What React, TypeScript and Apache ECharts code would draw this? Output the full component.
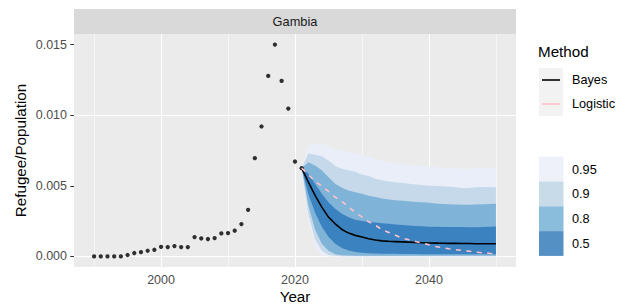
import React, { useEffect, useRef } from "react";
import * as echarts from "echarts";

const obsYears = [1990,1991,1992,1993,1994,1995,1996,1997,1998,1999,2000,2001,2002,2003,2004,2005,2006,2007,2008,2009,2010,2011,2012,2013,2014,2015,2016,2017,2018,2019,2020,2021];
const obsValues = [0,0,0,0,0,0.0001,0.00024,0.0003,0.0004,0.00047,0.00068,0.00066,0.00073,0.00066,0.00066,0.00137,0.00127,0.00123,0.0013,0.00163,0.00165,0.00182,0.00229,0.0033,0.00696,0.0092,0.01278,0.015,0.01243,0.01047,0.00672,0.00625];

const fcYears = [2021,2022,2023,2024,2025,2026,2027,2028,2029,2030,2031,2032,2033,2034,2035,2036,2037,2038,2039,2040,2041,2042,2043,2044,2045,2046,2047,2048,2049,2050];
const bayesMedian = [0.00625,0.00526,0.00432,0.00349,0.00278,0.00231,0.00191,0.00165,0.00149,0.00137,0.00125,0.00116,0.0011,0.00107,0.00105,0.00103,0.00101,0.00099,0.00097,0.00095,0.00094,0.00093,0.00092,0.00092,0.00091,0.00091,0.0009,0.0009,0.0009,0.0009];
const logistic = [0.00625,0.0058,0.0053,0.005,0.0046,0.0042,0.0039,0.0035,0.0031,0.0028,0.00245,0.0022,0.0019,0.0017,0.0015,0.0013,0.00118,0.00106,0.00095,0.00082,0.0007,0.00062,0.00054,0.00047,0.00042,0.00037,0.0003,0.00026,0.00022,0.0002];

const upper95 = [0.00625,0.0079,0.008,0.008,0.0078,0.0076,0.0075,0.0074,0.0073,0.00718,0.0071,0.0069,0.00675,0.0067,0.0066,0.00655,0.0065,0.00645,0.0064,0.00635,0.00632,0.0063,0.00628,0.00625,0.0062,0.0062,0.00625,0.0063,0.00625,0.0062];
const upper90 = [0.00625,0.0073,0.0072,0.0071,0.0068,0.0064,0.0062,0.0061,0.006,0.0058,0.0057,0.0055,0.0054,0.0053,0.00525,0.0052,0.00515,0.0051,0.00505,0.005,0.005,0.00497,0.00493,0.0049,0.00485,0.00485,0.0049,0.00492,0.0049,0.0049];
const upper80 = [0.00625,0.00667,0.00644,0.0061,0.0056,0.00514,0.00486,0.00467,0.00455,0.00443,0.0043,0.0042,0.0041,0.00403,0.00398,0.00394,0.0039,0.00386,0.00383,0.0038,0.00375,0.00372,0.0037,0.00368,0.00366,0.00366,0.00368,0.0037,0.00372,0.00373];
const upper50 = [0.00625,0.00585,0.00514,0.00443,0.00384,0.00337,0.00302,0.00278,0.0026,0.0025,0.00245,0.0024,0.00235,0.00231,0.00226,0.00222,0.00219,0.00216,0.00213,0.0021,0.0021,0.00209,0.00209,0.00209,0.00208,0.00206,0.00206,0.00208,0.0021,0.00212];
const lower50 = [0.00625,0.0044,0.0031,0.0021,0.0014,0.0009,0.0006,0.00042,0.00032,0.00026,0.00022,0.0002,0.00019,0.00018,0.00018,0.00017,0.00017,0.00017,0.00016,0.00016,0.00016,0.00016,0.00015,0.00015,0.00015,0.00015,0.00015,0.00015,0.00015,0.00015];
const lower80 = [0.00625,0.0036,0.0019,0.0009,0.0004,0.00015,0.00008,0.00006,0.00005,0.00005,0.00005,0.00005,0.00004,0.00004,0.00004,0.00004,0.00004,0.00004,0.00004,0.00004,0.00004,0.00004,0.00004,0.00004,0.00004,0.00004,0.00004,0.00004,0.00004,0.00004];
const lower90 = [0.00625,0.003,0.0012,0.0004,0.0001,0.00004,0.00002,0.00002,0.00002,0.00002,0.00001,0.00001,0.00001,0.00001,0.00001,0.00001,0.00001,0.00001,0.00001,0.00001,0.00001,0.00001,0.00001,0.00001,0.00001,0.00001,0.00001,0.00001,0.00001,0.00001];
const lower95 = [0.00625,0.0025,0.0007,0.0001,0,0,0,0,0,0,0,0,0,0,0,0,0,0,0,0,0,0,0,0,0,0,0,0,0,0];

const xMajorTicks = [2000, 2020, 2040];
const xMinorTicks = [1990, 2010, 2030, 2050];
const yMajorTicks = [0, 0.005, 0.01, 0.015];
const yMinorTicks = [0.0025, 0.0075, 0.0125];
const yTickLabels = ["0.000", "0.005", "0.010", "0.015"];

const methodNames = ["Bayes", "Logistic"];
const levelNames = ["0.95", "0.9", "0.8", "0.5"];

const C95 = "#e9eef8";
const C90 = "#c5d9ea";
const C80 = "#80b3d8";
const C50 = "#3b83c0";
const LEG = ["#eef1f9", "#c8dbe8", "#8abcdc", "#5590c4"];
const FONT = "Liberation Sans, Arial, Helvetica, sans-serif";

export default function App() {
  const ref = useRef<HTMLDivElement>(null);
  useEffect(() => {
    document.body.style.margin = "0";
    if (!ref.current) return;
    const chart = echarts.init(ref.current, null, { renderer: "svg" });

    const bands = [
      { upper: upper95, lower: lower95, color: C95 },
      { upper: upper90, lower: lower90, color: C90 },
      { upper: upper80, lower: lower80, color: C80 },
      { upper: upper50, lower: lower50, color: C50 },
    ];
    const bandSeries = bands.map((b, k) => ({
      type: "custom",
      name: "band" + k,
      coordinateSystem: "cartesian2d",
      data: [[fcYears[0], b.upper[0]]],
      silent: true,
      z: 2 + k * 0.01,
      renderItem: (params: any, api: any) => {
        const pts: number[][] = [];
        for (let i = 0; i < fcYears.length; i++) pts.push(api.coord([fcYears[i], b.upper[i]]));
        for (let i = fcYears.length - 1; i >= 0; i--) pts.push(api.coord([fcYears[i], b.lower[i]]));
        return { type: "polygon", shape: { points: pts }, style: { fill: b.color, stroke: "none" } };
      },
    }));

    const gridData = [
      ...xMajorTicks.map((v) => ({ xAxis: v, lineStyle: { width: 1.1 } })),
      ...xMinorTicks.map((v) => ({ xAxis: v, lineStyle: { width: 0.55 } })),
      ...yMajorTicks.map((v) => ({ yAxis: v, lineStyle: { width: 1.1 } })),
      ...yMinorTicks.map((v) => ({ yAxis: v, lineStyle: { width: 0.55 } })),
    ];

    const legendX = 539;
    const graphic: any[] = [
      { type: "rect", shape: { x: 74, y: 9, width: 442, height: 25 }, style: { fill: "#d9d9d9" }, silent: true },
      { type: "text", x: 295, y: 21.5, style: { text: "Gambia", fill: "#1a1a1a", font: `12.8px ${FONT}`, textAlign: "center", textVerticalAlign: "middle" } },
      { type: "text", x: 295, y: 296, style: { text: "Year", fill: "#000", font: `15.2px ${FONT}`, textAlign: "center", textVerticalAlign: "middle" } },
      { type: "text", x: 20, y: 150.5, rotation: Math.PI / 2, style: { text: "Refugee/Population", fill: "#000", font: `15.2px ${FONT}`, textAlign: "center", textVerticalAlign: "middle" } },
      { type: "text", x: 538, y: 51, style: { text: "Method", fill: "#000", font: `15.2px ${FONT}`, textAlign: "left", textVerticalAlign: "middle" } },
    ];
    methodNames.forEach((name, i) => {
      const yc = 80 + i * 24;
      graphic.push({ type: "rect", shape: { x: legendX, y: yc - 12, width: 24, height: 24 }, style: { fill: "#f2f2f2" }, silent: true });
      graphic.push({
        type: "line",
        shape: { x1: legendX + 3, y1: yc, x2: legendX + 21, y2: yc },
        style: { stroke: i === 0 ? "#000" : "#FFC0CB", lineWidth: 1.6 },
      });
      graphic.push({ type: "text", x: 572, y: yc, style: { text: name, fill: "#000", font: `12.7px ${FONT}`, textAlign: "left", textVerticalAlign: "middle" } });
    });
    levelNames.forEach((name, i) => {
      const y0 = 156.7 + i * 24.8;
      graphic.push({ type: "rect", shape: { x: legendX, y: y0, width: 24.5, height: 24.8 }, style: { fill: LEG[i] }, silent: true });
      graphic.push({ type: "text", x: 572, y: y0 + 12.9, style: { text: name, fill: "#000", font: `12.7px ${FONT}`, textAlign: "left", textVerticalAlign: "middle" } });
    });

    chart.setOption({
      animation: false,
      backgroundColor: "#ffffff",
      textStyle: { fontFamily: FONT },
      grid: { left: 74, top: 34, width: 442, height: 233, show: true, backgroundColor: "#ebebeb", borderWidth: 0, containLabel: false },
      xAxis: {
        type: "value",
        min: 1987,
        max: 2053,
        axisLine: { show: false },
        splitLine: { show: false },
        axisTick: { show: true, length: 3.7, customValues: xMajorTicks, lineStyle: { color: "#333333", width: 1 } },
        axisLabel: { customValues: xMajorTicks, color: "#4d4d4d", fontSize: 12.5, margin: 6, fontFamily: FONT, formatter: (v: number) => String(Math.round(v)) },
      },
      yAxis: {
        type: "value",
        min: -0.00075,
        max: 0.01575,
        axisLine: { show: false },
        splitLine: { show: false },
        axisTick: { show: true, length: 3.7, customValues: yMajorTicks, lineStyle: { color: "#333333", width: 1 } },
        axisLabel: {
          customValues: yMajorTicks,
          color: "#4d4d4d",
          fontSize: 12.5,
          margin: 7,
          fontFamily: FONT,
          formatter: (v: number) => {
            const idx = yMajorTicks.findIndex((t) => Math.abs(t - v) < 1e-9);
            return idx >= 0 ? yTickLabels[idx] : "";
          },
        },
      },
      graphic,
      series: [
        {
          type: "line",
          name: "gridlines",
          data: [],
          z: 1,
          silent: true,
          markLine: {
            silent: true,
            z: 1,
            symbol: ["none", "none"],
            label: { show: false },
            lineStyle: { type: "solid", color: "#ffffff" },
            emphasis: { disabled: true },
            data: gridData,
          },
        },
        ...bandSeries,
        {
          type: "scatter",
          name: "Observed",
          data: obsYears.map((y, i) => [y, obsValues[i]]),
          symbol: "circle",
          symbolSize: 4.3,
          itemStyle: { color: "#000000" },
          z: 3,
          silent: true,
        },
        {
          type: "line",
          name: "Bayes",
          data: fcYears.map((y, i) => [y, bayesMedian[i]]),
          symbol: "none",
          showSymbol: false,
          lineStyle: { color: "#000000", width: 1.6 },
          z: 4,
          silent: true,
        },
        {
          type: "line",
          name: "Logistic",
          data: fcYears.map((y, i) => [y, logistic[i]]),
          symbol: "none",
          showSymbol: false,
          lineStyle: { color: "#FFC0CB", width: 1.6, type: [5, 5.5] },
          z: 5,
          silent: true,
        },
      ],
    });
    return () => chart.dispose();
  }, []);
  return <div ref={ref} style={{ width: 627, height: 306 }} />;
}
